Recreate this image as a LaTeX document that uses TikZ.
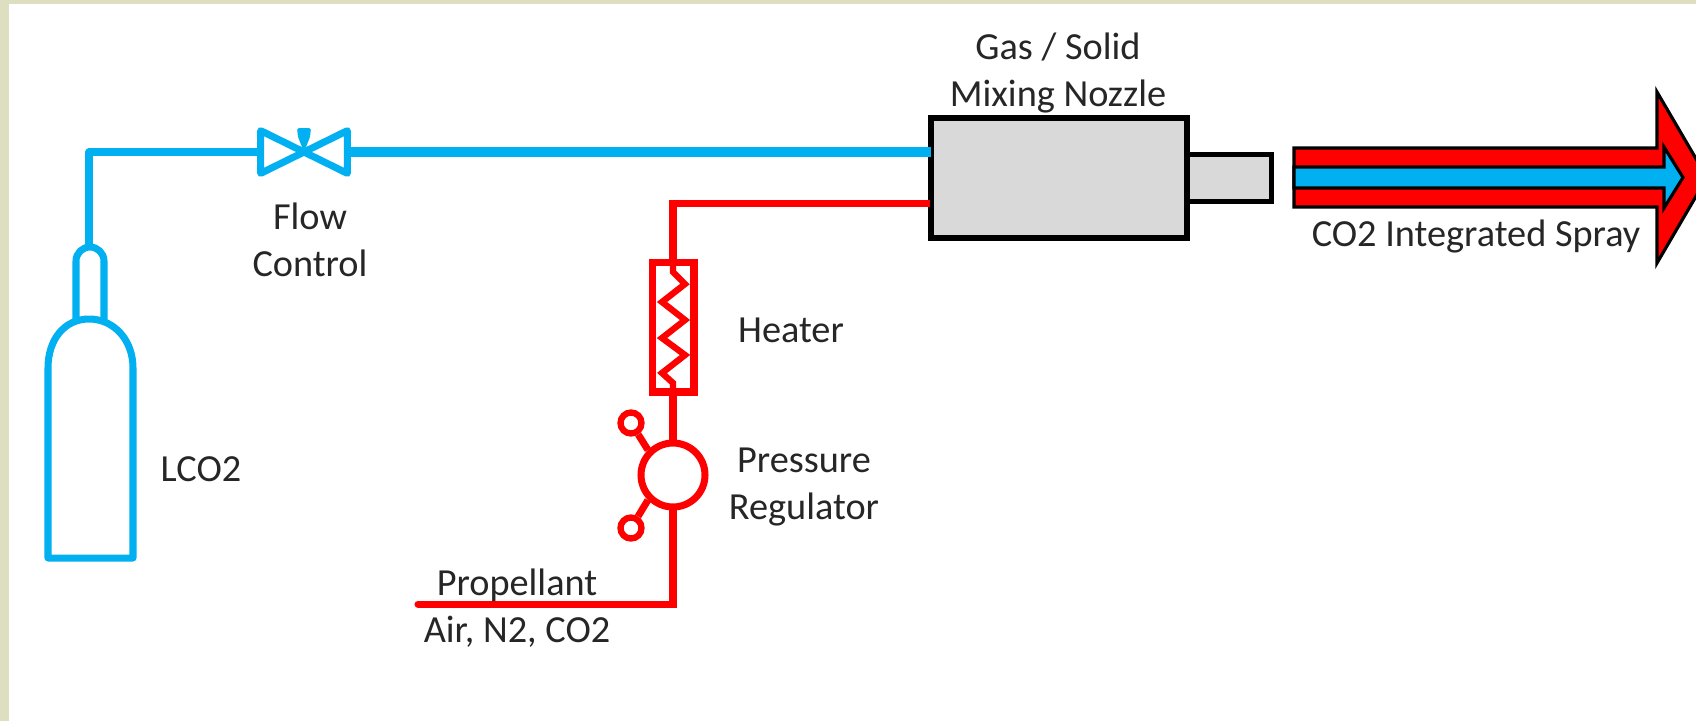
\documentclass[tikz,border=0pt]{standalone}
\usepackage{fontspec}
\setmainfont{Carlito}
\usetikzlibrary{positioning}
\definecolor{pagegreen}{RGB}{222,223,192}
\definecolor{co2blue}{RGB}{0,176,240}
\definecolor{airred}{RGB}{255,0,0}
\definecolor{nozzlegrey}{RGB}{217,217,217}
\tikzset{
  label text/.style={font=\fontsize{21.8}{26.6}\selectfont, text=black!85, align=center, inner sep=0pt},
  blue pipe/.style={draw=co2blue, line width=4pt, line join=round},
  red pipe/.style={draw=airred, line width=4pt},
  nozzle part/.style={draw=black, fill=nozzlegrey, line width=3pt, inner sep=0pt, outer sep=0pt},
  spray part/.style={draw=black, line width=1.8pt, line join=miter},
  knob/.style={circle, draw=airred, line width=3.6pt, fill=white, minimum size=0.42cm, inner sep=0pt}
}
\begin{document}
\begin{tikzpicture}[x=0.02cm,y=-0.02cm]
\useasboundingbox (0,0) rectangle (1696,721);
\fill[pagegreen] (0,0) rectangle (1696,721);
\fill[white] (9,4) rectangle (1696,721);
% Bottle
\coordinate (bottletop) at (89,247);
\draw[blue pipe] (48,558) -- (48,368) .. controls (48,340) and (64,319) .. (89,319) .. controls (114,319) and (133,340) .. (133,368) -- (133,558) -- cycle;
\draw[blue pipe] (76,319) -- (76,261) arc (180:360:14) -- (104,319);
% Flow control valve
\node[minimum width=1.72cm, minimum height=0.84cm, inner sep=0pt] (valve) at (304,152) {};
\draw[blue pipe] (valve.north west) -- (valve.south east) -- (valve.north east) -- (valve.south west) -- cycle;
\fill[co2blue, rounded corners=1pt] (valve.center) -- (298,137) -- (297,128) -- (311,128) -- (310,137) -- cycle;
\coordinate (corner) at (bottletop |- valve.west);
\draw[blue pipe] (bottletop) -- (corner) -- (valve.west);
% Nozzle
\node[nozzle part, minimum width=5.12cm, minimum height=2.4cm] (nozzle) at (1059,178) {};
\node[nozzle part, anchor=west, minimum width=1.69cm, minimum height=0.94cm] (tip) at (nozzle.east) {};
\coordinate (bluein) at (nozzle.west |- valve.east);
\draw[blue pipe, line width=5.6pt] (valve.east) -- (bluein);
% Heater
\coordinate (redin) at (930,203.5);
\node[draw=airred, line width=4pt, minimum width=0.84cm, minimum height=2.6cm, inner sep=0pt] (heater) at (673,327) {};
\draw[red pipe] (redin) -- (heater.north |- redin) -- (heater.north);
\draw[red pipe, line width=3.6pt] (heater.north) -- (673,272) -- (685,284) -- (662,302) -- (685,320) -- (662,338) -- (685,355) -- (662,373) -- (673,383) -- (heater.south);
% Pressure regulator
\node[circle, draw=airred, line width=4pt, fill=white, minimum size=1.28cm, inner sep=0pt] (regulator) at (673,475) {};
\node[knob] (knobtop) at (631,423) {};
\node[knob] (knobbottom) at (631,528) {};
\draw[red pipe] (knobtop) -- (regulator.135);
\draw[red pipe] (knobbottom) -- (regulator.225);
\draw[red pipe] (heater.south) -- (regulator.north);
\coordinate (propellant) at (418,604);
\draw[red pipe, line cap=round] (regulator.south) -- (regulator.south |- propellant) -- (propellant);
% Spray arrow
\draw[spray part, fill=airred] (1294,148) -- (1657,148) -- (1657,92) -- (1707,177.5) -- (1657,263) -- (1657,207) -- (1294,207) -- cycle;
\draw[spray part, fill=co2blue] (1294,167) -- (1664,167) -- (1664,147) -- (1683,177.5) -- (1664,208) -- (1664,188) -- (1294,188) -- cycle;
% Labels
\node[label text] (nozzlelabel) at (1058,73) {Gas / Solid\\Mixing Nozzle};
\node[label text] (flowlabel) at (310,240) {Flow\\Control};
\node[label text] (heaterlabel) at (791,330) {Heater};
\node[label text] (regulatorlabel) at (804,487) {Pressure\\Regulator};
\node[label text] (bottlelabel) at (201,469) {LCO2};
\node[label text] (gaslabel) at (517,608) {Propellant\\Air, N2, CO2};
\node[label text] (spraylabel) at (1476,236) {CO2 Integrated Spray};
\end{tikzpicture}
\end{document}
